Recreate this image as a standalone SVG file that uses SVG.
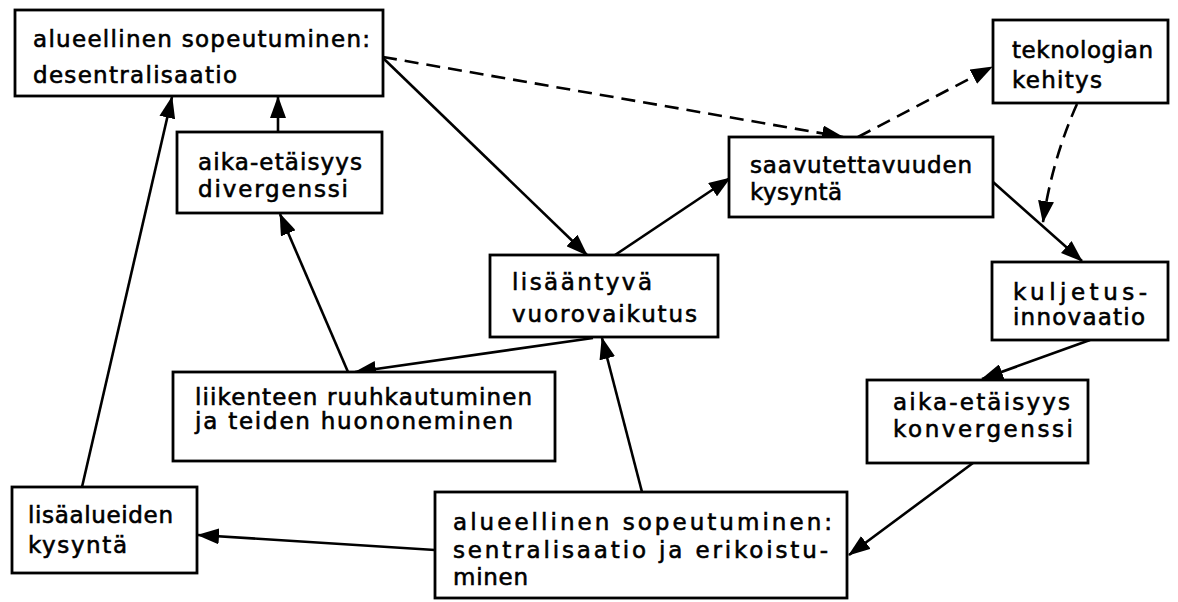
<svg xmlns="http://www.w3.org/2000/svg" width="1178" height="602" viewBox="0 0 1178 602">
<style>
.box{fill:#fff;stroke:#000;stroke-width:2.8}
.t{font-family:"DejaVu Sans","Liberation Sans",Arial,sans-serif;font-size:23px;fill:#000;stroke:#000;stroke-width:0.6}
.c{fill:none;stroke:#000;stroke-width:2.6}
.d{stroke-dasharray:14 8}
</style>
<defs>
<marker id="ah" markerUnits="userSpaceOnUse" markerWidth="22" markerHeight="16" refX="21" refY="8" orient="auto">
<path d="M0,0 L22,8 L0,16 Z" fill="#000"/>
</marker>
</defs>
<rect width="1178" height="602" fill="#fff"/>
<g id="connectors">
<path class="c" d="M383,58 L587,255" marker-end="url(#ah)"/>
<path class="c d" d="M383,57 L843,137" marker-end="url(#ah)"/>
<path class="c d" d="M858,137 L992,67" marker-end="url(#ah)"/>
<path class="c d" d="M1077,104 Q1052,160 1043,222" marker-end="url(#ah)"/>
<path class="c" d="M993,182 L1082,261" marker-end="url(#ah)"/>
<path class="c" d="M1090,340 L982,379" marker-end="url(#ah)"/>
<path class="c" d="M973,463 L849,555" marker-end="url(#ah)"/>
<path class="c" d="M642,492 L602,338" marker-end="url(#ah)"/>
<path class="c" d="M615,255 L730,178" marker-end="url(#ah)"/>
<path class="c" d="M593,338 L355,372" marker-end="url(#ah)"/>
<path class="c" d="M348,372 L280,214" marker-end="url(#ah)"/>
<path class="c" d="M278,132 L278,97" marker-end="url(#ah)"/>
<path class="c" d="M82,487 L172,97" marker-end="url(#ah)"/>
<path class="c" d="M435,550 L198,535" marker-end="url(#ah)"/>
</g>
<g id="n-desentralisaatio">
<rect class="box" x="15" y="10" width="368" height="86"/>
<text class="t" x="33" y="47" textLength="337" lengthAdjust="spacing">alueellinen sopeutuminen:</text>
<text class="t" x="33" y="83" textLength="204" lengthAdjust="spacing">desentralisaatio</text>
</g>
<g id="n-teknologia">
<rect class="box" x="993" y="20" width="175" height="83"/>
<text class="t" x="1012" y="58" textLength="141" lengthAdjust="spacing">teknologian</text>
<text class="t" x="1012" y="88" textLength="90" lengthAdjust="spacing">kehitys</text>
</g>
<g id="n-saavutettavuus">
<rect class="box" x="729" y="137" width="264" height="80"/>
<text class="t" x="750" y="173" textLength="222" lengthAdjust="spacing">saavutettavuuden</text>
<text class="t" x="750" y="200" textLength="92" lengthAdjust="spacing">kysyntä</text>
</g>
<g id="n-divergenssi">
<rect class="box" x="177" y="132" width="205" height="81"/>
<text class="t" x="198" y="170" textLength="164" lengthAdjust="spacing">aika-etäisyys</text>
<text class="t" x="198" y="197" textLength="150" lengthAdjust="spacing">divergenssi</text>
</g>
<g id="n-vuorovaikutus">
<rect class="box" x="490" y="255" width="228" height="82"/>
<text class="t" x="512" y="290" textLength="140" lengthAdjust="spacing">lisääntyvä</text>
<text class="t" x="512" y="322" textLength="185" lengthAdjust="spacing">vuorovaikutus</text>
</g>
<g id="n-kuljetus">
<rect class="box" x="992" y="262" width="176" height="78"/>
<text class="t" x="1013" y="300" textLength="134" lengthAdjust="spacing">kuljetus-</text>
<text class="t" x="1013" y="325" textLength="132" lengthAdjust="spacing">innovaatio</text>
</g>
<g id="n-konvergenssi">
<rect class="box" x="867" y="380" width="221" height="83"/>
<text class="t" x="893" y="410" textLength="177" lengthAdjust="spacing">aika-etäisyys</text>
<text class="t" x="893" y="437" textLength="180" lengthAdjust="spacing">konvergenssi</text>
</g>
<g id="n-liikenne">
<rect class="box" x="173" y="372" width="382" height="89"/>
<text class="t" x="195" y="405" textLength="337" lengthAdjust="spacing">liikenteen ruuhkautuminen</text>
<text class="t" x="195" y="429" textLength="318" lengthAdjust="spacing">ja teiden huononeminen</text>
</g>
<g id="n-lisaalueet">
<rect class="box" x="12" y="487" width="185" height="86"/>
<text class="t" x="28" y="523" textLength="145" lengthAdjust="spacing">lisäalueiden</text>
<text class="t" x="28" y="553" textLength="99" lengthAdjust="spacing">kysyntä</text>
</g>
<g id="n-sentralisaatio">
<rect class="box" x="435" y="492" width="412" height="106"/>
<text class="t" x="453" y="530" textLength="379" lengthAdjust="spacing">alueellinen sopeutuminen:</text>
<text class="t" x="453" y="558" textLength="375" lengthAdjust="spacing">sentralisaatio ja erikoistu-</text>
<text class="t" x="453" y="585" textLength="75" lengthAdjust="spacing">minen</text>
</g>
</svg>
